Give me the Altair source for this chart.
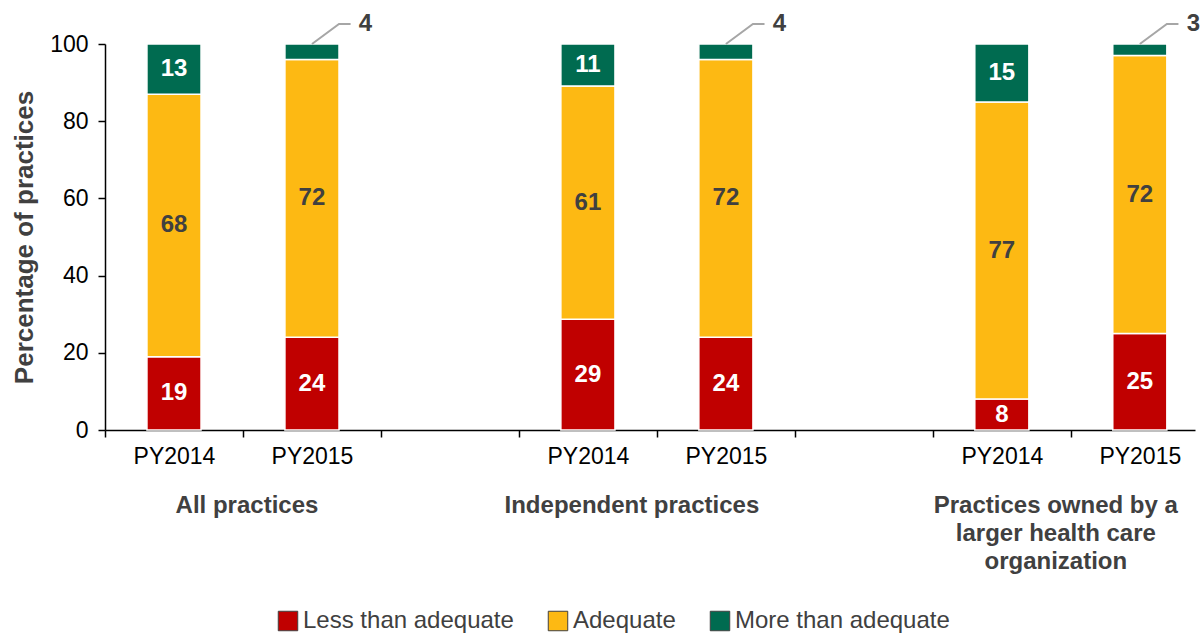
import altair as alt
import pandas as pd

# ---- data ----
groups = ["All practices", "Independent practices",
          "Practices owned by a\nlarger health care\norganization"]
years = ["PY2014", "PY2015"]
categories = ["Less than adequate", "Adequate", "More than adequate"]
less_than = [19, 24, 29, 24, 8, 25]
adequate = [68, 72, 61, 72, 77, 72]
more_than = [13, 4, 11, 4, 15, 3]

# ---- styles ----
colors = ["#C00000", "#FDB913", "#006B50"]
text_colors = ["white", "#404040", "white"]
FONT = "Liberation Sans"
DARK = "#404040"
SLOTS_PER_GROUP = 3           # two bars + one empty slot
BAR_HALF = 0.196              # half bar width, slot units
CALLOUT_MIN = 6               # values below this get a leader-line callout
group_nudge_px = [4, -25, -15]
SLOT_PX = 1090 / 7.9

# ---- build tables ----
series = [less_than, adequate, more_than]
rows, inside, lines, callouts = [], [], [], []
for b in range(len(less_than)):
    g, yi = divmod(b, len(years))
    slot = g * SLOTS_PER_GROUP + yi
    c = slot + 0.5
    total = sum(s[b] for s in series)
    cum = 0.0
    for k, cat in enumerate(categories):
        v = series[k][b]
        pct = v / total * 100
        y0, y1 = cum, cum + pct
        cum = y1
        rows.append(dict(bar=b, category=cat, value=v, x0=c - BAR_HALF, x1=c + BAR_HALF,
                         y0=y0, y1=y1))
        if v >= CALLOUT_MIN:
            inside.append(dict(xc=c, ym=(y0 + y1) / 2, value=v, tcolor=text_colors[k]))
        else:
            top = 100 + 5.2
            lines += [dict(bar=b, step=0, x=c, y=100),
                      dict(bar=b, step=1, x=c + 0.196, y=top),
                      dict(bar=b, step=2, x=c + 0.28, y=top)]
            callouts.append(dict(x=c + 0.34, y=top, value=v))

df = pd.DataFrame(rows)
df_in = pd.DataFrame(inside)
df_lines = pd.DataFrame(lines)
df_call = pd.DataFrame(callouts)
df_groups = pd.DataFrame(dict(
    label=groups,
    x=[g * SLOTS_PER_GROUP + 1 + group_nudge_px[g] / SLOT_PX for g in range(len(groups))]))

xscale = alt.Scale(domain=[0, 7.9], nice=False, zero=False)
yscale = alt.Scale(domain=[0, 100], nice=False)

label_expr = ("datum.value % 3 == 0 ? '" + years[0] + "' : (datum.value % 3 == 1 ? '"
              + years[1] + "' : '')")

bars = alt.Chart(df).mark_bar(stroke="white", strokeWidth=1.5).encode(
    x=alt.X("x0:Q", scale=xscale,
            axis=alt.Axis(title=None, values=list(range(8)), labelExpr=label_expr,
                          labelOffset=SLOT_PX / 2, labelFlush=False, labelOverlap=False,
                          grid=False, tickSize=7, tickColor="black", tickWidth=1.5,
                          domainColor="black", domainWidth=1.5, labelFont=FONT,
                          labelFontSize=23, labelColor="black", labelPadding=8)),
    x2="x1:Q",
    y=alt.Y("y0:Q", scale=yscale,
            axis=alt.Axis(title="Percentage of practices", values=[0, 20, 40, 60, 80, 100],
                          grid=False, tickSize=7, tickColor="black", tickWidth=1.5,
                          domainColor="black", domainWidth=1.5, labelFont=FONT,
                          labelFontSize=23, labelColor="black", labelPadding=10,
                          titleFont=FONT, titleFontSize=26, titleFontWeight="bold",
                          titleColor=DARK, titlePadding=12)),
    y2="y1:Q",
    color=alt.Color("category:N", scale=alt.Scale(domain=categories, range=colors),
                    legend=alt.Legend(title=None, orient="none", legendX=171, legendY=565,
                                      direction="horizontal", symbolType="square",
                                      symbolSize=380, symbolStrokeColor=DARK,
                                      symbolStrokeWidth=1, labelFont=FONT,
                                      labelFontSize=24, labelColor=DARK, labelOffset=3,
                                      columnPadding=32, labelLimit=400, padding=0)),
)

inside_text = alt.Chart(df_in).mark_text(font=FONT, fontSize=24, fontWeight="bold",
                                         baseline="middle").encode(
    x=alt.X("xc:Q", scale=xscale), y=alt.Y("ym:Q", scale=yscale),
    text="value:Q", color=alt.Color("tcolor:N", scale=None))

leader = alt.Chart(df_lines).mark_line(color="#A6A6A6", strokeWidth=2).encode(
    x=alt.X("x:Q", scale=xscale), y=alt.Y("y:Q", scale=yscale),
    detail="bar:N", order="step:Q")

call_text = alt.Chart(df_call).mark_text(font=FONT, fontSize=24, fontWeight="bold",
                                         color=DARK, align="left", baseline="middle").encode(
    x=alt.X("x:Q", scale=xscale), y=alt.Y("y:Q", scale=yscale), text="value:Q")

group_text = alt.Chart(df_groups).mark_text(font=FONT, fontSize=24, fontWeight="bold",
                                            color=DARK, align="center", baseline="top",
                                            lineBreak="\n", lineHeight=28).encode(
    x=alt.X("x:Q", scale=xscale), y=alt.value(450), text="label:N")

chart = alt.layer(bars, inside_text, leader, call_text, group_text).properties(
    width=1090, height=386,
    padding={"left": 105, "top": 44, "right": 5, "bottom": 205},
    autosize=alt.AutoSizeParams(type="none"),
).configure_view(stroke=None)

chart.save("out.html", embed_options={"renderer": "svg", "actions": False})
